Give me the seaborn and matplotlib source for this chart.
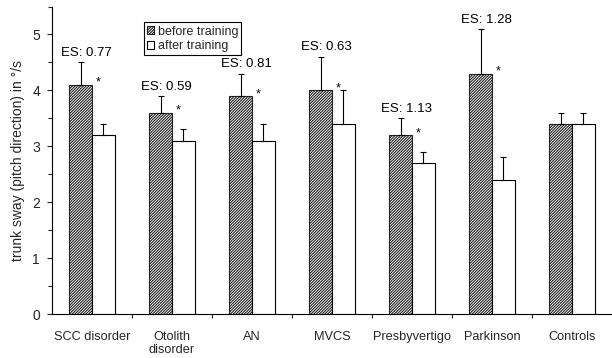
import matplotlib
matplotlib.use("Agg")
import matplotlib.pyplot as plt
from matplotlib.ticker import MultipleLocator, FixedLocator
import seaborn as sns
import pandas as pd

# Trunk sway before and after training, per patient group
groups = ["SCC disorder", "Otolith\ndisorder", "AN", "MVCS",
          "Presbyvertigo", "Parkinson", "Controls"]
phases = ["before training", "after training"]
before = [4.1, 3.6, 3.9, 4.0, 3.2, 4.3, 3.4]
after = [3.2, 3.1, 3.1, 3.4, 2.7, 2.4, 3.4]
before_err = [0.4, 0.3, 0.4, 0.6, 0.3, 0.8, 0.2]
after_err = [0.2, 0.2, 0.3, 0.6, 0.2, 0.4, 0.2]
effect_sizes = ["0.77", "0.59", "0.81", "0.63", "1.13", "1.28", None]
significant = [True, True, True, True, True, True, False]

df = pd.DataFrame({
    "group": groups * 2,
    "phase": [phases[0]] * len(groups) + [phases[1]] * len(groups),
    "sway": before + after,
})

sns.set_style("ticks")
plt.rcParams["font.family"] = ["Liberation Sans", "DejaVu Sans"]
plt.rcParams["hatch.linewidth"] = 0.8

fig = plt.figure(figsize=(6.12, 3.58), dpi=100)
ax = fig.add_axes([52 / 612, 44 / 358, 560 / 612, 307.5 / 358])

sns.barplot(data=df, x="group", y="sway", hue="phase", order=groups,
            hue_order=phases, palette=["white", "white"], edgecolor="black",
            linewidth=0.8, width=0.57, gap=0, errorbar=None, legend=False,
            ax=ax)

before_bars, after_bars = ax.containers[0], ax.containers[1]
for bar in before_bars:
    bar.set_hatch("////////////")
    bar.set_edgecolor("#222222")

# upper-only error bars
for bars, vals, errs in ((before_bars, before, before_err),
                         (after_bars, after, after_err)):
    xs = [b.get_x() + b.get_width() / 2 for b in bars]
    ax.errorbar(xs, vals, yerr=[[0] * len(errs), errs], fmt="none",
                ecolor="black", elinewidth=0.8, capsize=2.5, capthick=0.8,
                zorder=1)

# effect sizes and significance stars
for i, (v, e, es, sig) in enumerate(zip(before, before_err, effect_sizes,
                                        significant)):
    if es is not None:
        ax.text(i - 0.07, v + e + 0.06, f"ES: {es}", ha="center",
                va="bottom", fontsize=9.5, color="black")
    if sig:
        ax.text(i + 0.075, v - 0.02, "*", ha="center", va="baseline",
                fontsize=9, color="black")

ax.set_xlim(-0.5, 6.5)
ax.set_ylim(0, 5.5)
ax.yaxis.set_major_locator(MultipleLocator(1))
ax.yaxis.set_minor_locator(MultipleLocator(0.5))
ax.xaxis.set_minor_locator(FixedLocator([0.5, 1.5, 2.5, 3.5, 4.5, 5.5]))
ax.tick_params(axis="x", which="major", length=0, pad=12, labelsize=9.2)
ax.tick_params(axis="x", which="minor", length=3, width=0.8, direction="out")
ax.tick_params(axis="y", which="major", length=3.6, width=0.8, pad=5,
               labelsize=10)
ax.tick_params(axis="y", which="minor", length=3, width=0.8)
ax.set_xlabel("")
ax.set_ylabel("trunk sway (pitch direction) in °/s", fontsize=10, labelpad=5)

sns.despine(ax=ax)
for side in ("left", "bottom"):
    ax.spines[side].set_linewidth(0.8)
    ax.spines[side].set_color("black")

leg = ax.legend(handles=[before_bars, after_bars], labels=phases,
                loc="upper left", bbox_to_anchor=(0.164, 0.948),
                fontsize=9, frameon=True, fancybox=False, framealpha=1,
                edgecolor="black", handlelength=0.6, handleheight=0.6,
                handletextpad=0.25, borderpad=0.25, labelspacing=0.2,
                borderaxespad=0)
leg.get_frame().set_linewidth(0.8)
leg.set_zorder(5)

fig.savefig("out.png", dpi=100)
